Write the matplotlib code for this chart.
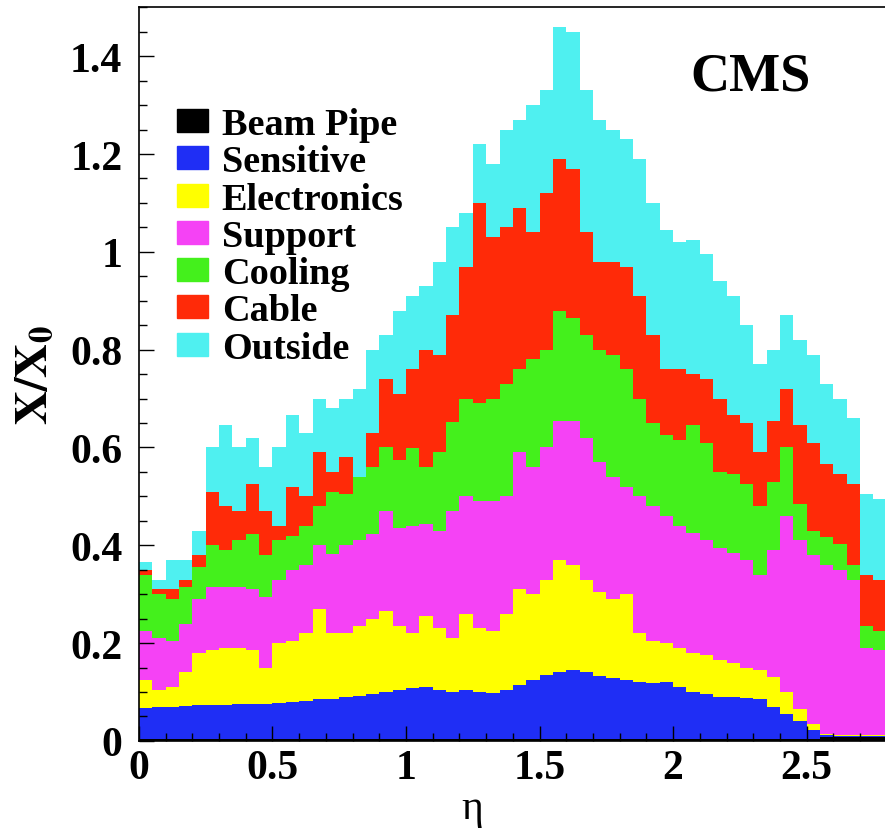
import numpy as np
import matplotlib
matplotlib.use("Agg")
import matplotlib.pyplot as plt
from matplotlib.patches import Patch
from matplotlib.ticker import MultipleLocator

# eta binning (0.05 wide bins)
eta_edges = np.arange(0, 2.8001, 0.05)

# upper edge of each stacked layer, read per bin
top_beampipe = [0.003] * 51 + [0.008] * 5
top_sensitive = [0.068, 0.07, 0.07, 0.072, 0.073, 0.073, 0.074, 0.075, 0.076, 0.076,
                 0.078, 0.08, 0.082, 0.085, 0.085, 0.09, 0.092, 0.095, 0.1, 0.105,
                 0.108, 0.11, 0.105, 0.1, 0.105, 0.1, 0.098, 0.105, 0.115, 0.125,
                 0.135, 0.14, 0.145, 0.14, 0.132, 0.128, 0.125, 0.12, 0.118, 0.12,
                 0.11, 0.1, 0.095, 0.09, 0.09, 0.088, 0.085, 0.07, 0.055, 0.04,
                 0.022, 0.012, 0.011, 0.011, 0.011, 0.011]
top_electronics = [0.125, 0.105, 0.11, 0.14, 0.18, 0.185, 0.19, 0.19, 0.185, 0.15,
                   0.2, 0.205, 0.22, 0.27, 0.22, 0.22, 0.235, 0.25, 0.265, 0.235,
                   0.22, 0.255, 0.23, 0.21, 0.26, 0.23, 0.225, 0.26, 0.31, 0.3,
                   0.33, 0.37, 0.36, 0.33, 0.305, 0.29, 0.3, 0.22, 0.205, 0.2,
                   0.19, 0.18, 0.175, 0.165, 0.16, 0.15, 0.145, 0.13, 0.1, 0.065,
                   0.035, 0.015, 0.013, 0.013, 0.013, 0.013]
top_support = [0.225, 0.21, 0.205, 0.24, 0.29, 0.315, 0.315, 0.315, 0.31, 0.295,
               0.33, 0.35, 0.36, 0.4, 0.383, 0.4, 0.41, 0.424, 0.47, 0.436,
               0.44, 0.444, 0.43, 0.47, 0.5, 0.49, 0.49, 0.5, 0.59, 0.56,
               0.6, 0.655, 0.655, 0.62, 0.57, 0.54, 0.52, 0.5, 0.48, 0.46,
               0.44, 0.425, 0.41, 0.395, 0.385, 0.37, 0.34, 0.39, 0.46, 0.41,
               0.38, 0.36, 0.35, 0.33, 0.19, 0.185]
top_cooling = [0.34, 0.3, 0.29, 0.315, 0.355, 0.4, 0.39, 0.41, 0.424, 0.38,
               0.41, 0.42, 0.44, 0.48, 0.51, 0.505, 0.546, 0.56, 0.6, 0.575,
               0.598, 0.56, 0.59, 0.653, 0.7, 0.69, 0.7, 0.73, 0.76, 0.78,
               0.8, 0.88, 0.865, 0.83, 0.8, 0.79, 0.76, 0.7, 0.65, 0.625,
               0.615, 0.645, 0.61, 0.55, 0.546, 0.525, 0.48, 0.53, 0.6, 0.485,
               0.43, 0.416, 0.403, 0.36, 0.235, 0.225]
top_cable = [0.35, 0.31, 0.31, 0.33, 0.38, 0.51, 0.48, 0.47, 0.525, 0.47,
             0.44, 0.52, 0.5, 0.59, 0.55, 0.58, 0.54, 0.63, 0.74, 0.71,
             0.76, 0.8, 0.79, 0.87, 0.97, 1.1, 1.03, 1.05, 1.09, 1.04,
             1.12, 1.19, 1.17, 1.04, 0.98, 0.98, 0.97, 0.91, 0.83, 0.76,
             0.76, 0.75, 0.74, 0.7, 0.667, 0.65, 0.59, 0.655, 0.72, 0.645,
             0.61, 0.566, 0.545, 0.525, 0.34, 0.33]
top_outside = [0.365, 0.33, 0.37, 0.37, 0.43, 0.6, 0.645, 0.6, 0.62, 0.56,
               0.6, 0.667, 0.63, 0.7, 0.68, 0.7, 0.72, 0.8, 0.83, 0.88,
               0.91, 0.93, 0.98, 1.05, 1.08, 1.22, 1.18, 1.25, 1.27, 1.3,
               1.33, 1.46, 1.45, 1.33, 1.27, 1.25, 1.23, 1.19, 1.1, 1.045,
               1.02, 1.025, 0.995, 0.94, 0.91, 0.85, 0.77, 0.8, 0.87, 0.82,
               0.79, 0.73, 0.7, 0.66, 0.505, 0.495]

labels = ["Beam Pipe", "Sensitive", "Electronics", "Support", "Cooling", "Cable", "Outside"]
tops = [top_beampipe, top_sensitive, top_electronics, top_support,
        top_cooling, top_cable, top_outside]
colors = ["#000000", "#1f2ef5", "#ffff00", "#f542f5", "#44f01c", "#ff2a08", "#4ff0f0"]

plt.rcParams["font.family"] = "Liberation Serif"
plt.rcParams["font.weight"] = "bold"
plt.rcParams["mathtext.fontset"] = "stix"

fig = plt.figure(figsize=(8.85, 8.29), dpi=100)
ax = fig.add_axes([0.157, 0.105, 0.845, 0.885])

below = np.zeros(len(eta_edges) - 1)
for top, c in zip(tops, colors):
    top = np.array(top)
    ax.stairs(top, eta_edges, baseline=below, fill=True, color=c, lw=0)
    below = top

ax.set_xlim(0, 2.8)
ax.set_ylim(0, 1.5)
ax.xaxis.set_major_locator(MultipleLocator(0.5))
ax.xaxis.set_minor_locator(MultipleLocator(0.1))
ax.yaxis.set_major_locator(MultipleLocator(0.2))
ax.yaxis.set_minor_locator(MultipleLocator(0.05))
ax.yaxis.set_major_formatter(lambda v, p: "%g" % round(v, 2))
ax.xaxis.set_major_formatter(lambda v, p: "%g" % round(v, 2))
ax.tick_params(which="both", direction="in", labelsize=30, top=False, right=False)
ax.tick_params(which="major", length=11, width=1)
ax.tick_params(which="minor", length=6, width=1)
ax.tick_params(axis="x", pad=6)
ax.tick_params(axis="y", pad=12)
for s in ax.spines.values():
    s.set_linewidth(1.2)
ax.set_axisbelow(False)

ax.set_ylabel(r"$\mathbf{X/X_0}$", fontsize=34)
ax.yaxis.set_label_coords(-0.11, 0.5)
ax.set_xlabel("η", fontsize=30, fontweight="normal")
ax.xaxis.set_label_coords(0.446, -0.065)

handles = [Patch(facecolor=c, edgecolor=c) for c in colors]
ax.legend(handles, labels, loc="upper left", bbox_to_anchor=(0.031, 0.885),
          frameon=False, fontsize=27.5, handlelength=0.8, handleheight=0.55,
          handletextpad=0.36, labelspacing=0.06, borderaxespad=0)

ax.text(0.818, 0.906, "CMS", transform=ax.transAxes, fontsize=39,
        fontweight="bold", ha="center", va="center")

fig.savefig("out.png", dpi=100)
